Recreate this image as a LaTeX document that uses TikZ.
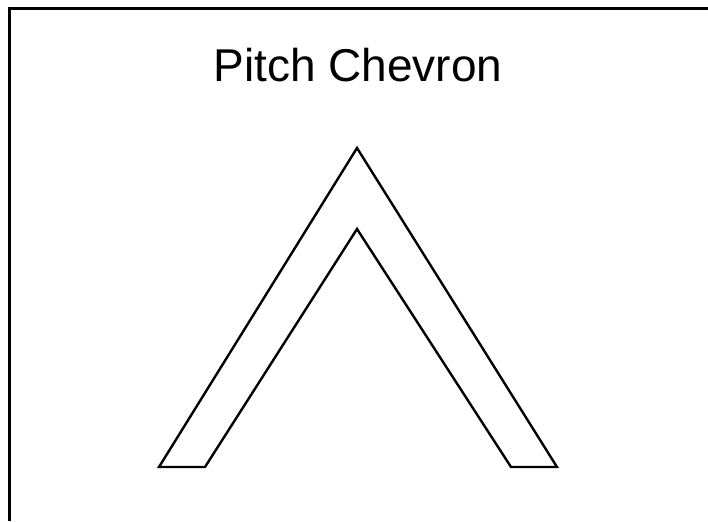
\documentclass[tikz,border=0pt]{standalone}
\usepackage{fontspec}
\setmainfont{Liberation Sans}

\begin{document}
\begin{tikzpicture}[
  x=1pt, y=-1pt,
  font=\rmfamily,
  frame/.style={
    draw=black,
    line width=2.2pt,
    line cap=butt
  },
  title/.style={
    font=\rmfamily\fontsize{46}{50}\selectfont,
    text=black,
    inner sep=0pt,
    anchor=base
  },
  chevron/.style={
    draw=black,
    line width=2.4pt,
    line join=miter
  }
]
\useasboundingbox (0,0) rectangle (708,521);

% window edges
\coordinate (topright) at (708,8.5);
\coordinate (corner) at (9.5,8.5);
\coordinate (bottomleft) at (9.5,521);
\draw[frame] (topright) -- (corner) -- (bottomleft);

\node[title] (caption) at (358,82) {Pitch Chevron};

% chevron outline
\coordinate (outerapex) at (357,148);
\coordinate (innerapex) at (357,229);
\coordinate (leftout) at (159,467);
\coordinate (leftin) at (205,467);
\coordinate (rightin) at (511,467);
\coordinate (rightout) at (557,467);
\draw[chevron] (outerapex) -- (rightout) -- (rightin) -- (innerapex)
  -- (leftin) -- (leftout) -- cycle;

\end{tikzpicture}
\end{document}
